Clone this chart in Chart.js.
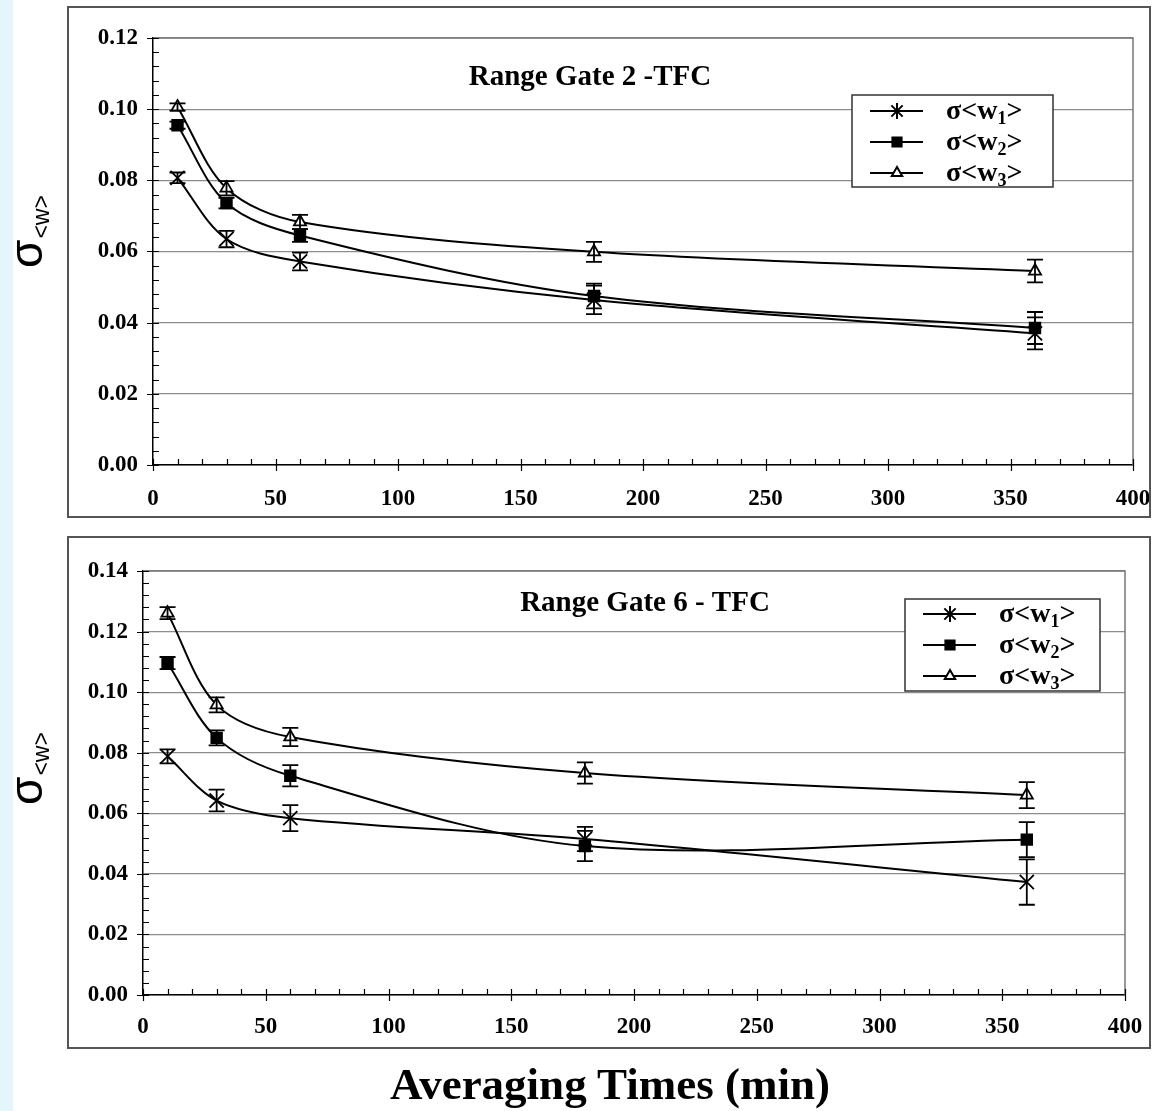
<!DOCTYPE html>
<html><head><meta charset="utf-8">
<script src="https://cdn.jsdelivr.net/npm/chart.js@4.4.1/dist/chart.umd.min.js"></script>
<style>
html,body{margin:0;padding:0;background:#fff;}
body{width:1158px;height:1111px;position:relative;overflow:hidden;}
#strip{position:absolute;left:0;top:0;width:13px;height:1111px;background:#e4f5fb;}
canvas{position:absolute;left:0;}
#c1{top:0}
#c2{top:530px}
#xt{position:absolute;left:610px;top:1062px;transform:translateX(-50%);white-space:nowrap;font:bold 45px 'Liberation Serif';line-height:45px;color:#000;}
</style></head><body>
<div id="strip"></div>
<canvas id="c1" width="1158" height="530"></canvas>
<canvas id="c2" width="1158" height="530"></canvas>
<div id="xt">Averaging Times (min)</div>
<script>
// ---- data ----
const times = [10, 30, 60, 180, 360];
const seriesNames = ['σ<w', '>'];
const seriesSub = ['1', '2', '3'];

// Range Gate 2
const gate2Title = 'Range Gate 2 -TFC';
const g2_w1 = [0.0807, 0.0635, 0.0572, 0.0464, 0.0370];
const g2_w2 = [0.0955, 0.0736, 0.0645, 0.0475, 0.0385];
const g2_w3 = [0.1006, 0.0778, 0.0683, 0.0599, 0.0545];
const g2_e1 = [0.0015, 0.0023, 0.0025, 0.0040, 0.0045];
const g2_e2 = [0.0010, 0.0015, 0.0018, 0.0035, 0.0045];
const g2_e3 = [0.0010, 0.0020, 0.0020, 0.0028, 0.0032];
const g2_yMax = 0.12;

// Range Gate 6
const gate6Title = 'Range Gate 6 - TFC';
const g6_w1 = [0.0788, 0.0642, 0.0584, 0.0515, 0.0373];
const g6_w2 = [0.1096, 0.0849, 0.0724, 0.0492, 0.0513];
const g6_w3 = [0.1261, 0.0958, 0.0852, 0.0733, 0.0660];
const g6_e1 = [0.0023, 0.0036, 0.0043, 0.0040, 0.0075];
const g6_e2 = [0.0020, 0.0025, 0.0035, 0.0050, 0.0058];
const g6_e3 = [0.0020, 0.0025, 0.0030, 0.0035, 0.0043];
const g6_yMax = 0.14;

const xMax = 400, xStep = 50, yStep = 0.02;

// ---- styles ----
const serif = "'Liberation Serif', 'Times New Roman', serif";
const styles = [
  {pointStyle: 'crossRot', radius: 10, fill: '#000', legendStyle: 'star', legendRadius: 8},
  {pointStyle: 'rect', radius: 7.5, fill: '#000', legendStyle: 'rect', legendRadius: 6.5},
  {pointStyle: 'triangle', radius: 7, fill: '#fff', legendStyle: 'triangle', legendRadius: 6}
];

function makeDatasets(vals) {
  return vals.map((v, i) => ({
    label: 'w' + seriesSub[i],
    data: times.map((t, j) => ({x: t, y: v[j]})),
    borderColor: '#000', borderWidth: 2, tension: 0.33, fill: false,
    pointStyle: styles[i].pointStyle, pointRadius: styles[i].radius,
    pointBackgroundColor: styles[i].fill, pointBorderColor: '#000', pointBorderWidth: 1.8
  }));
}

function makeChart(id, vals, errs, yMax, title, L) {
  const deco = {
    id: 'deco',
    afterDatasetsDraw(chart) {
      const ctx = chart.ctx, xs = chart.scales.x, ys = chart.scales.y;
      ctx.save();
      ctx.strokeStyle = '#000'; ctx.lineWidth = 1.8;
      errs.forEach((e, i) => {
        e.forEach((d, j) => {
          const x = xs.getPixelForValue(times[j]);
          const y1 = ys.getPixelForValue(vals[i][j] + d);
          const y2 = ys.getPixelForValue(vals[i][j] - d);
          ctx.beginPath();
          ctx.moveTo(x, y1); ctx.lineTo(x, y2);
          ctx.moveTo(x - 8, y1); ctx.lineTo(x + 8, y1);
          ctx.moveTo(x - 8, y2); ctx.lineTo(x + 8, y2);
          ctx.stroke();
        });
      });
      ctx.restore();
    },
    afterDraw(chart) {
      const ctx = chart.ctx, ca = chart.chartArea, xs = chart.scales.x, ys = chart.scales.y;
      ctx.save();
      // outer box
      ctx.strokeStyle = '#555'; ctx.lineWidth = 2;
      ctx.strokeRect(L.box[0], L.box[1], L.box[2] - L.box[0], L.box[3] - L.box[1]);
      // plot area top/right edge
      ctx.strokeStyle = '#777'; ctx.lineWidth = 1.5;
      ctx.beginPath();
      ctx.moveTo(ca.left, ca.top); ctx.lineTo(ca.right, ca.top); ctx.lineTo(ca.right, ca.bottom);
      ctx.stroke();
      // axes ticks
      ctx.strokeStyle = '#000'; ctx.lineWidth = 1.2;
      ctx.beginPath();
      for (let v = 0; v <= yMax + 1e-9; v += 0.004) {
        const y = Math.round(ys.getPixelForValue(v)) + 0.5;
        const major = Math.abs(v / yStep - Math.round(v / yStep)) < 1e-6;
        ctx.moveTo(ca.left - (major ? 6 : 0), y); ctx.lineTo(ca.left + 6, y);
      }
      for (let v = 0; v <= xMax; v += 10) {
        const x = Math.round(xs.getPixelForValue(v)) + 0.5;
        const major = v % xStep === 0;
        ctx.moveTo(x, ca.bottom + (major ? 6 : 0)); ctx.lineTo(x, ca.bottom - 6);
      }
      ctx.stroke();
      // title
      ctx.fillStyle = '#000';
      ctx.font = 'bold 29px ' + serif;
      ctx.textAlign = 'center'; ctx.textBaseline = 'alphabetic';
      ctx.fillText(title, L.titleX, L.titleY);
      // legend
      const lg = L.legend;
      ctx.fillStyle = '#fff';
      ctx.fillRect(lg.x, lg.y, lg.w, lg.h);
      ctx.strokeStyle = '#333'; ctx.lineWidth = 1.5;
      ctx.strokeRect(lg.x, lg.y, lg.w, lg.h);
      seriesSub.forEach((s, i) => {
        const ry = lg.y + lg.row0 + i * lg.rowH;
        ctx.strokeStyle = '#000'; ctx.lineWidth = 2;
        ctx.beginPath(); ctx.moveTo(lg.x + 18, ry); ctx.lineTo(lg.x + 71, ry); ctx.stroke();
        ctx.fillStyle = styles[i].fill; ctx.strokeStyle = '#000';
        Chart.helpers.drawPoint(ctx, {pointStyle: styles[i].legendStyle, radius: styles[i].legendRadius, borderWidth: 1.6, rotation: 0}, lg.x + 45, ry);
        ctx.fillStyle = '#000';
        ctx.textAlign = 'left';
        ctx.font = 'bold 28px ' + serif;
        let tx = lg.x + 94;
        ctx.fillText(seriesNames[0], tx, ry + 8);
        tx += ctx.measureText(seriesNames[0]).width;
        ctx.font = 'bold 18px ' + serif;
        ctx.fillText(s, tx, ry + 13);
        tx += ctx.measureText(s).width;
        ctx.font = 'bold 28px ' + serif;
        ctx.fillText(seriesNames[1], tx, ry + 8);
      });
      // y title
      ctx.save();
      ctx.translate(L.ytX, L.ytY);
      ctx.rotate(-Math.PI / 2);
      ctx.fillStyle = '#000';
      ctx.textAlign = 'left';
      ctx.font = '46px "Liberation Sans", Arial, sans-serif';
      ctx.fillText('σ', 0, 0);
      const w = ctx.measureText('σ').width;
      ctx.font = '23px "Liberation Sans", Arial, sans-serif';
      ctx.fillText('<w>', w + 1, 7);
      ctx.restore();
      ctx.restore();
    }
  };
  const tickFont = {family: serif, weight: 'bold', size: 23};
  return new Chart(document.getElementById(id), {
    type: 'line',
    data: {datasets: makeDatasets(vals)},
    options: {
      responsive: false, animation: false,
      layout: {padding: {left: L.padL, right: L.padR, top: L.padT, bottom: 0}},
      scales: {
        x: {
          type: 'linear', min: 0, max: xMax,
          ticks: {stepSize: xStep, color: '#000', font: tickFont, padding: L.xPad, maxRotation: 0, callback: v => String(v)},
          grid: {display: false, drawTicks: false},
          border: {display: true, color: '#000', width: 1.5},
          afterFit: s => { s.height = L.xH; s.paddingLeft = 0; s.paddingRight = 0; }
        },
        y: {
          min: 0, max: yMax,
          ticks: {stepSize: yStep, color: '#000', font: tickFont, padding: 15, callback: v => v.toFixed(2)},
          grid: {color: '#8c8c8c', lineWidth: 1.2, drawTicks: false},
          border: {display: true, color: '#000', width: 1.5},
          afterFit: s => { s.width = L.yW; s.paddingTop = 0; s.paddingBottom = 0; }
        }
      },
      plugins: {legend: {display: false}, tooltip: {enabled: false}}
    },
    plugins: [deco]
  });
}

makeChart('c1', [g2_w1, g2_w2, g2_w3], [g2_e1, g2_e2, g2_e3], g2_yMax, gate2Title, {
  box: [68, 7, 1150, 517], padL: 70, yW: 83, padR: 25, padT: 38, xH: 65, xPad: 20,
  titleX: 590, titleY: 85,
  legend: {x: 852, y: 95, w: 201, h: 92, row0: 16, rowH: 31},
  ytX: 42, ytY: 268
});
makeChart('c2', [g6_w1, g6_w2, g6_w3], [g6_e1, g6_e2, g6_e3], g6_yMax, gate6Title, {
  box: [68, 7, 1150, 518], padL: 70, yW: 73, padR: 33, padT: 41, xH: 65, xPad: 18,
  titleX: 645, titleY: 81,
  legend: {x: 905, y: 69, w: 195, h: 92, row0: 15, rowH: 31},
  ytX: 42, ytY: 275
});
</script>
</body></html>
